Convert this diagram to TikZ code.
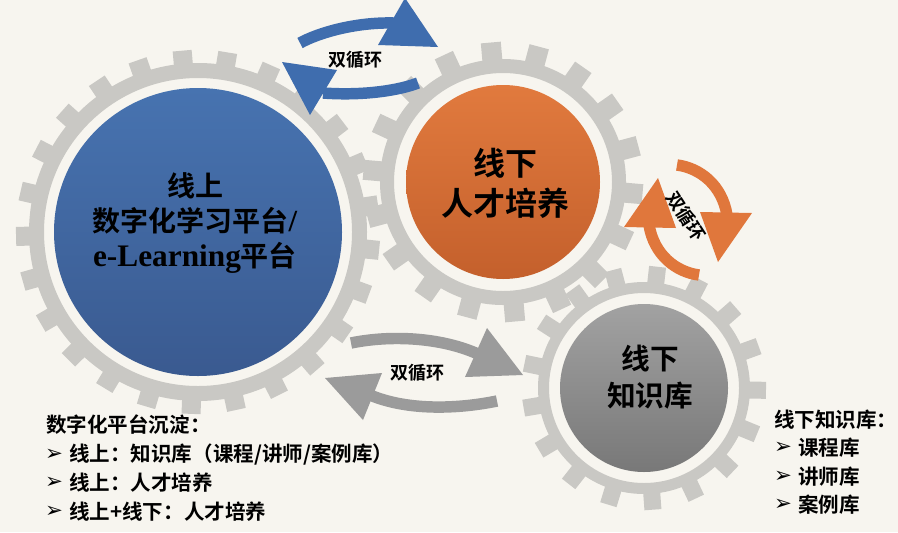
\documentclass[tikz,border=0pt]{standalone}
\usepackage{fontspec}
\newfontfamily\cjk{Noto Sans CJK SC}[BoldFont={Noto Sans CJK SC Bold}]
\newfontfamily\lat{Liberation Serif}
\newfontfamily\dv{DejaVu Sans}
\definecolor{bgc}{HTML}{F7F5EF}
\definecolor{gearc}{HTML}{C9C8C4}
\definecolor{blueA}{HTML}{4773B0}
\definecolor{blueB}{HTML}{3A5A90}
\definecolor{orA}{HTML}{E17A3E}
\definecolor{orB}{HTML}{C4602C}
\definecolor{grA}{HTML}{A2A2A2}
\definecolor{grB}{HTML}{787878}
\definecolor{arrBlue}{HTML}{3F6DAE}
\definecolor{arrOr}{HTML}{E0773C}
\definecolor{arrGr}{HTML}{9B9B9B}
\tikzset{
  gearfill/.style={fill=gearc},
  shaft/.style={line width=8.6pt},
  arrlabel/.style={font=\cjk\bfseries\fontsize{13.5}{16}\selectfont, inner sep=0pt, text=black},
  bigtxt/.style={font=\cjk\bfseries\fontsize{21}{26}\selectfont, align=center, inner sep=0pt, text=black},
  midtxt/.style={font=\cjk\bfseries\fontsize{24}{30}\selectfont, align=center, inner sep=0pt, text=black},
  smalltxt/.style={font=\cjk\bfseries\fontsize{21.5}{28}\selectfont, align=center, inner sep=0pt, text=black},
  listtxt/.style={font=\cjk\bfseries\fontsize{15.4}{18}\selectfont, anchor=west, inner sep=0pt, text=black},
  bullet/.style={font=\dv\bfseries\fontsize{16}{16}\selectfont, inner sep=0pt, text=black},
}
\begin{document}
\begin{tikzpicture}[x=0.75pt,y=-0.75pt]
\useasboundingbox (0,0) rectangle (898,532);
\fill[bgc] (0,0) rectangle (898,532);
\begin{scope}
\clip (0,0) rectangle (898,532);
% ---- big gear
\fill[gearfill, even odd rule] (198,232) circle (169) (198,232) circle (154);
\foreach \k in {0,...,24}
  \fill[gearfill, shift={(198,232)}, rotate={95+14.4*\k}] (166,-9.5) rectangle (182,9.5);
% ---- medium gear
\fill[gearfill, even odd rule] (503,182) circle (123) (503,182) circle (109);
\foreach \k in {0,...,17}
  \fill[gearfill, shift={(503,182)}, rotate={95+20*\k}] (120,-10) rectangle (140,10);
% ---- small gear
\fill[gearfill, even odd rule] (644,388) circle (106) (644,388) circle (95);
\foreach \k in {0,...,16}
  \fill[gearfill, shift={(644,388)}, rotate={-85.8+21.176*\k}] (103,-8.5) rectangle (122,8.5);
% ---- disks
\shade[top color=blueA, bottom color=blueB] (198,232) circle (144);
\shade[top color=orA, bottom color=orB] (503,182) circle (97);
\shade[top color=grA, bottom color=grB] (644,388) circle (84);
% ---- blue arrows
\draw[shaft, arrBlue] (300,43) .. controls (318,33) and (355,22) .. (394,23);
\fill[arrBlue] (405,-2) -- (438,47) -- (378,45) -- cycle;
\draw[shaft, arrBlue] (418,83) .. controls (400,90) and (365,96) .. (323,93);
\fill[arrBlue] (282,62) -- (337,70) -- (310,115) -- cycle;
% ---- orange arrows
\draw[shaft, arrOr] (677,165) .. controls (700,168) and (722,185) .. (727,215);
\fill[arrOr] (700,212) -- (752,213) -- (718,262) -- cycle;
\draw[shaft, arrOr] (699,275) .. controls (676,272) and (654,255) .. (649,225);
\fill[arrOr] (676,228) -- (624,227) -- (658,178) -- cycle;
% ---- gray arrows
\draw[shaft, arrGr] (351,343) .. controls (390,335) and (440,337) .. (478,354);
\fill[arrGr] (487,328) -- (465,377) -- (523,375) -- cycle;
\draw[shaft, arrGr] (497,401) .. controls (458,409) and (408,411) .. (370,395);
\fill[arrGr] (325,378) -- (382,373) -- (363,420) -- cycle;
\end{scope}
% ---- texts
\node[bigtxt] (tBig) at (195,223) {线上\\数字化学习平台{\lat\fontsize{23}{26}\selectfont/}\\{\lat\fontsize{23.5}{26}\selectfont e-Learning}平台};
\node[midtxt] (tMid) at (505,183) {线下\\人才培养};
\node[smalltxt] (tSmall) at (650,377) {线下\\知识库};
\node[arrlabel] (lBlue) at (355,60) {双循环};
\node[arrlabel] (lGray) at (417,373) {双循环};
\node[arrlabel, rotate=-57] (lOr) at (686,216) {双循环};
% ---- left list
\node[listtxt] (L0) at (46,425) {数字化平台沉淀：};
\node[bullet] (B1) at (54,455) {➢};
\node[listtxt] (L1) at (69,455) {线上：知识库（课程/讲师/案例库）};
\node[bullet] (B2) at (54,483) {➢};
\node[listtxt] (L2) at (69,483) {线上：人才培养};
\node[bullet] (B3) at (54,512) {➢};
\node[listtxt] (L3) at (69,512) {线上+线下：人才培养};
% ---- right list
\node[listtxt] (R0) at (774,420) {线下知识库：};
\node[bullet] (RB1) at (783,448) {➢};
\node[listtxt] (R1) at (798,448) {课程库};
\node[bullet] (RB2) at (783,477) {➢};
\node[listtxt] (R2) at (798,477) {讲师库};
\node[bullet] (RB3) at (783,505) {➢};
\node[listtxt] (R3) at (798,505) {案例库};
\end{tikzpicture}
\end{document}
